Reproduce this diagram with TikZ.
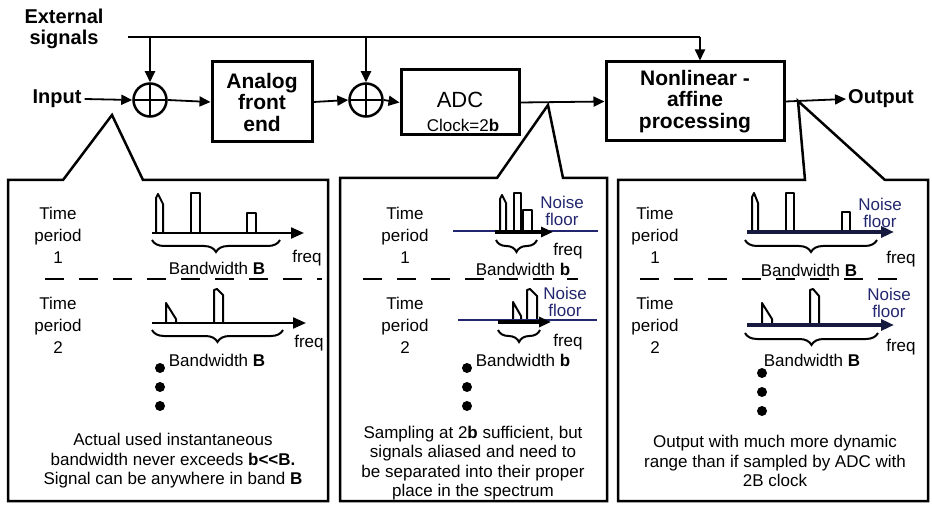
\documentclass[tikz,border=0pt]{standalone}
\usepackage{fontspec}
\setmainfont{Liberation Sans}
\usetikzlibrary{arrows.meta,decorations.pathreplacing}
\definecolor{navy}{RGB}{34,38,110}
\definecolor{darknavy}{RGB}{22,26,62}
\begin{document}
\begin{tikzpicture}[x=1pt,y=-1pt,
  blk/.style={draw, line width=3pt, align=center, inner sep=0pt, font=\bfseries\fontsize{21}{21.5}\selectfont},
  big/.style={inner sep=0pt, align=center, font=\bfseries\fontsize{20}{20.5}\selectfont},
  arr/.style={line width=1.8pt, -{Triangle[length=11pt,width=10pt]}},
  sumc/.style={circle, draw, line width=2.5pt, minimum size=33pt, inner sep=0pt,
    path picture={\draw[line width=2.2pt] (path picture bounding box.north) -- (path picture bounding box.south)
      (path picture bounding box.west) -- (path picture bounding box.east);}},
  panel/.style={line width=2.5pt, line join=miter},
  txt/.style={align=center, inner sep=0pt, font=\fontsize{17}{22}\selectfont},
  bot/.style={align=center, inner sep=0pt, font=\fontsize{17}{19.5}\selectfont},
  nf/.style={align=center, inner sep=0pt, text=navy, font=\fontsize{17}{17.5}\selectfont},
  spk/.style={line width=2pt, line join=round},
  axisarr/.style={line width=2.2pt, -{Triangle[length=13pt,width=11pt]}},
  brc/.style={decorate, decoration={brace, mirror, amplitude=12pt}, line width=2pt},
  dsh/.style={line width=2.5pt, dash pattern=on 19pt off 15pt},
  dot/.style={circle, fill, inner sep=0pt, minimum size=10pt}
]
\useasboundingbox (0,0) rectangle (932,505);

% ---------- top chain ----------
\node[big] (ext) at (64,29) {External\\signals};
\node[big] (inp) at (57,99) {Input};
\node[big] (out) at (881,99) {Output};
\node[sumc] (s1) at (150,100) {};
\node[sumc] (s2) at (366,100) {};
\node[blk, minimum width=100pt, minimum height=80pt] (afe) at (262,102) {Analog\\front\\end};
\node[draw, line width=3pt, minimum width=118pt, minimum height=65pt, inner sep=0pt] (adc) at (460,102.5) {};
\node[inner sep=0pt, font=\fontsize{22}{22}\selectfont] (adct) at (460,100) {ADC};
\node[inner sep=0pt, font=\fontsize{17}{17}\selectfont] (clk) at (463,125) {Clock=2\textbf{b}};
\node[blk, minimum width=178pt, minimum height=79pt] (nl) at (695,101.5) {Nonlinear -\\affine\\processing};

\coordinate (es) at (128,37);
\coordinate (ee) at (700,37);
\draw[line width=1.8pt] (es) -- (ee);
\draw[arr] (ee) -- (ee |- nl.north);
\draw[arr] (s1.north |- es) -- (s1.north);
\draw[arr] (s2.north |- es) -- (s2.north);
\draw[arr] ([xshift=3pt]inp.east) -- (s1.west);
\draw[arr] (s1.east) -- (afe.west);
\draw[arr] (afe.east) -- (s2.west);
\draw[arr] (s2.east) -- (adc.west);
\draw[arr] (adc.east) -- (nl.west);
\draw[arr] (nl.east) -- ([xshift=-2pt]out.west);

% ---------- panels ----------
\draw[panel] (8,501) -- (8,180) -- (63,180) -- (112,115) -- (143,180) -- (328,180) -- (328,501) -- cycle;
\draw[panel] (340,501) -- (340,178) -- (497,178) -- (548,105) -- (563,178) -- (607,178) -- (607,501) -- cycle;
\draw[panel] (618,501) -- (618,180) -- (805,180) -- (798,101) -- (885,180) -- (928,180) -- (928,501) -- cycle;

% dashed separators
\draw[dsh] (45,279) -- (322,279);
\draw[dsh] (363,279) -- (578,279);
\draw[dsh] (640,279) -- (908,279);

% ===== panel 1 =====
\node[txt] (p1t1) at (58,235) {Time\\period\\1};
\node[txt] (p1t2) at (58,325) {Time\\period\\2};
\draw[spk] (156,233) -- (156,198) -- (158,194) -- (163,204) -- (163,233);
\draw[spk] (191,233) -- (191,193) -- (200,193) -- (200,233);
\draw[spk] (247,233) -- (247,213) -- (256,213) -- (256,233);
\draw[axisarr] (152,233) -- (304,233);
\draw[brc] (152,240) -- (280,240);
\node[txt] (p1b1) at (217,268) {Bandwidth \textbf{B}};
\node[txt] (p1f1) at (307,258) {freq};
\draw[spk] (166,323) -- (166,303) -- (176,319) -- (176,323);
\draw[spk] (214,323) -- (214,290) -- (217,289) -- (223,295) -- (223,323);
\draw[axisarr] (152,323) -- (306,323);
\draw[brc] (152,330) -- (283,330);
\node[txt] (p1b2) at (217,360) {Bandwidth \textbf{B}};
\node[txt] (p1f2) at (309,343) {freq};
\node[dot] at (160,368) {};
\node[dot] at (160,387) {};
\node[dot] at (160,406) {};
\node[bot] (p1txt) at (173,461) {Actual used instantaneous\\bandwidth never exceeds \textbf{b<\kern0pt<B.}\\Signal can be anywhere in band \textbf{B}};

% ===== panel 2 =====
\node[txt] (p2t1) at (405,235) {Time\\period\\1};
\node[txt] (p2t2) at (405,325) {Time\\period\\2};
\draw[spk] (500,232) -- (500,199) -- (502,195) -- (506,203) -- (506,232);
\draw[spk] (514,232) -- (514,193) -- (521,193) -- (521,232);
\draw[spk] (523,232) -- (523,210) -- (532,210) -- (532,232);
\draw[line width=2.5pt, navy] (453,231) -- (598,231);
\draw[line width=3.5pt, -{Triangle[length=12pt,width=10pt]}] (495,232) -- (553,232);
\node[nf] (p2n1) at (562,211) {Noise\\floor};
\draw[brc] (496,240) -- (537,240);
\node[txt] (p2f1) at (568,251) {freq};
\node[txt] (p2b1) at (523,269) {Bandwidth \textbf{b}};
\draw[spk] (513,322) -- (513,302) -- (521,316) -- (521,322);
\draw[spk] (527,322) -- (527,290) -- (530,289) -- (537,296) -- (537,322);
\draw[line width=2.5pt, navy] (458,320) -- (597,320);
\draw[line width=3.5pt, -{Triangle[length=12pt,width=10pt]}] (498,322) -- (551,322);
\node[nf] (p2n2) at (565,302) {Noise\\floor};
\draw[brc] (498,330) -- (540,330);
\node[txt] (p2f2) at (568,342) {freq};
\node[txt] (p2b2) at (523,360) {Bandwidth \textbf{b}};
\node[dot] at (467,368) {};
\node[dot] at (467,387) {};
\node[dot] at (467,406) {};
\node[bot] (p2txt) at (473,463) {Sampling at 2\textbf{b} sufficient, but\\signals aliased and need to\\be separated into their proper\\place in the spectrum};

% ===== panel 3 =====
\node[txt] (p3t1) at (655,235) {Time\\period\\1};
\node[txt] (p3t2) at (655,325) {Time\\period\\2};
\draw[spk] (752,232) -- (752,197) -- (754,193) -- (758,203) -- (758,232);
\draw[spk] (786,232) -- (786,193) -- (794,193) -- (794,232);
\draw[spk] (842,232) -- (842,212) -- (850,212) -- (850,232);
\node[nf] (p3n1) at (880,213) {Noise\\floor};
\draw[line width=4pt, darknavy, -{Triangle[length=13pt,width=11pt]}] (747,232) -- (894,232);
\draw[brc] (745,240) -- (877,240);
\node[txt] (p3f1) at (901,259) {freq};
\node[txt] (p3b1) at (809,270) {Bandwidth \textbf{B}};
\draw[spk] (762,325) -- (762,303) -- (772,319) -- (772,325);
\draw[spk] (810,325) -- (810,290) -- (813,289) -- (819,296) -- (819,325);
\node[nf] (p3n2) at (889,303) {Noise\\floor};
\draw[line width=4pt, darknavy, -{Triangle[length=13pt,width=11pt]}] (747,325) -- (894,325);
\draw[brc] (745,333) -- (878,333);
\node[txt] (p3f2) at (901,347) {freq};
\node[txt] (p3b2) at (812,360) {Bandwidth \textbf{B}};
\node[dot] at (762,373) {};
\node[dot] at (762,392) {};
\node[dot] at (762,411) {};
\node[bot] (p3txt) at (775,461) {Output with much more dynamic\\range than if sampled by ADC with\\2B clock};
\end{tikzpicture}
\end{document}
